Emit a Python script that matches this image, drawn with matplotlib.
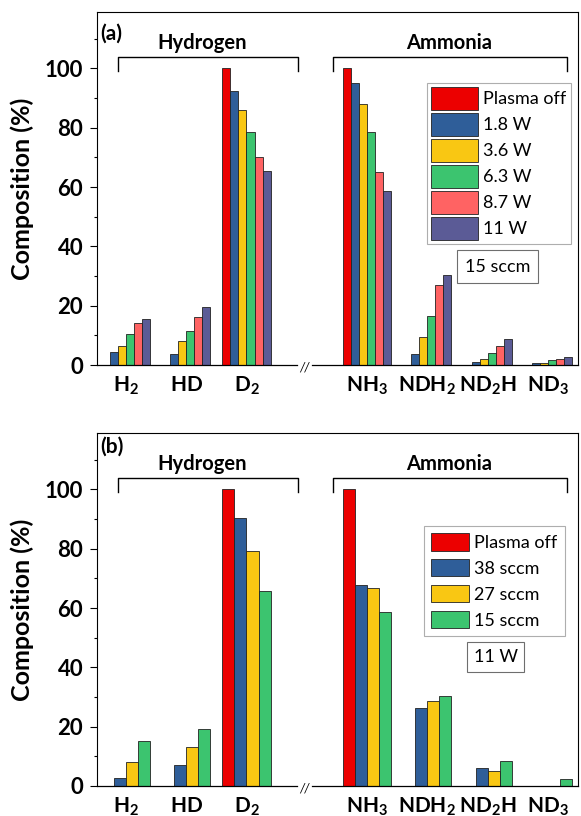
import matplotlib
matplotlib.use('Agg')
import matplotlib.pyplot as plt
from matplotlib.patches import Rectangle
import numpy as np

plt.rcParams['font.family'] = ['Lato', 'DejaVu Sans']
plt.rcParams['mathtext.fontset'] = 'custom'
plt.rcParams['mathtext.rm'] = 'Lato'
plt.rcParams['mathtext.bf'] = 'Lato:bold'

# Species (hydrogen group, then ammonia group after the axis break)
species = [r'$\mathbf{H}_\mathbf{2}$', r'$\mathbf{HD}$', r'$\mathbf{D}_\mathbf{2}$',
           r'$\mathbf{NH}_\mathbf{3}$', r'$\mathbf{NDH}_\mathbf{2}$',
           r'$\mathbf{ND}_\mathbf{2}\mathbf{H}$', r'$\mathbf{ND}_\mathbf{3}$']
group_pos = [0, 1, 2, 4, 5, 6, 7]

# (a) power series at 15 sccm
power_labels = ['Plasma off', '1.8 W', '3.6 W', '6.3 W', '8.7 W', '11 W']
a_off = [0, 0, 100, 100, 0, 0, 0]
a_1_8 = [4.5, 3.7, 92.5, 94.9, 3.7, 0.9, 0.7]
a_3_6 = [6.5, 8.1, 86.0, 88.0, 9.3, 2.0, 0.8]
a_6_3 = [10.4, 11.6, 78.7, 78.5, 16.6, 3.9, 1.6]
a_8_7 = [14.0, 16.3, 70.2, 65.0, 27.0, 6.4, 2.0]
a_11 = [15.4, 19.7, 65.5, 58.8, 30.2, 8.8, 2.6]

# (b) flow series at 11 W
flow_labels = ['Plasma off', '38 sccm', '27 sccm', '15 sccm']
b_off = [0, 0, 100, 100, 0, 0, 0]
b_38 = [2.8, 7.2, 90.4, 67.9, 26.4, 6.0, 0]
b_27 = [8.1, 13.0, 79.3, 66.6, 28.5, 5.2, 0]
b_15 = [15.3, 19.3, 65.6, 58.8, 30.3, 8.5, 2.5]

colors_a = ['#EC0000', '#2F5E99', '#F9C713', '#3CC46F', '#FF6363', '#5B5B96']
colors_b = ['#EC0000', '#2F5E99', '#F9C713', '#3CC46F']


def draw_panel(ax, series, labels, colors, tag, note, leg_anchor, leg_opts, note_box, tag_y):
    x = np.array(group_pos, dtype=float)
    n = len(series)
    w = 0.8 / n
    handles = []
    for i, (vals, lab, col) in enumerate(zip(series, labels, colors)):
        b = ax.bar(x - 0.4 + w * (i + 0.5), vals, width=w, color=col,
                   edgecolor='#222222', linewidth=0.6, label=lab, zorder=3)
        handles.append(b)

    ax.set_xlim(-0.48, 7.5)
    ax.set_ylim(0, 119)
    ax.set_yticks(np.arange(0, 101, 20))
    ax.set_yticks(np.arange(10, 111, 20), minor=True)
    ax.set_xticks(x)
    ax.set_xticklabels(species)
    ax.tick_params(axis='x', length=0, pad=7, labelsize=15)
    ax.tick_params(axis='y', which='major', direction='out', length=5, width=0.8,
                   pad=5, labelsize=16)
    ax.tick_params(axis='y', which='minor', direction='out', length=2.5, width=0.8)
    for lab in ax.get_yticklabels():
        lab.set_fontweight('bold')
    ax.set_ylabel('Composition (%)', fontsize=18, fontweight='bold', labelpad=8)

    # broken bottom axis
    ax.spines['bottom'].set_visible(False)
    ax.plot([-0.48, 2.84], [0, 0], color='black', lw=0.9, clip_on=False, zorder=4)
    ax.plot([3.09, 7.5], [0, 0], color='black', lw=0.9, clip_on=False, zorder=4)
    ax.text(2.965, -0.8, '//', ha='center', va='center', fontsize=9, style='italic')

    # group brackets
    for x0, x1, tx, name in [(-0.13, 2.85, 1.26, 'Hydrogen'), (3.43, 7.31, 5.36, 'Ammonia')]:
        ax.plot([x0, x0, x1, x1], [99.2, 103.8, 103.8, 99.2], color='black', lw=1.0, zorder=4)
        ax.text(tx, 108.7, name, ha='center', va='center',
                fontsize=14.5, fontweight='bold')

    ax.text(0.006, tag_y, tag, transform=ax.transAxes, ha='left', va='top',
            fontsize=15, fontweight='bold')

    leg = ax.legend(handles=handles, loc='upper left', bbox_to_anchor=leg_anchor,
                    fontsize=13, frameon=True, fancybox=False, borderaxespad=0,
                    **leg_opts)
    leg.get_frame().set_edgecolor('#9A9A9A')
    leg.get_frame().set_linewidth(0.8)

    bx0, by0, bx1, by1 = note_box
    ax.add_patch(Rectangle((bx0, by0), bx1 - bx0, by1 - by0, transform=ax.transAxes,
                           facecolor='white', edgecolor='#6E6E6E', lw=0.8, zorder=5))
    ax.text((bx0 + bx1) / 2, (by0 + by1) / 2, note, transform=ax.transAxes,
            ha='center', va='center', fontsize=13, zorder=6)


fig = plt.figure(figsize=(5.81, 8.16), dpi=100)
ax_a = fig.add_axes([97 / 581, 1 - 365 / 816, 481 / 581, 353 / 816])
ax_b = fig.add_axes([97 / 581, 1 - 786 / 816, 481 / 581, 353 / 816])

draw_panel(ax_a, [a_off, a_1_8, a_3_6, a_6_3, a_8_7, a_11], power_labels, colors_a,
           '(a)', '15 sccm', (0.686, 0.799),
           dict(handlelength=2.6, handleheight=1.56, labelspacing=0.18,
                handletextpad=0.3, borderpad=0.23),
           (0.748, 0.232, 0.917, 0.326), 0.968)
draw_panel(ax_b, [b_off, b_38, b_27, b_15], flow_labels, colors_b,
           '(b)', '11 W', (0.680, 0.737),
           dict(handlelength=2.1, handleheight=1.13, labelspacing=0.44,
                handletextpad=0.3, borderpad=0.39),
           (0.769, 0.323, 0.888, 0.408), 0.99)

fig.savefig('out.png', dpi=100)
